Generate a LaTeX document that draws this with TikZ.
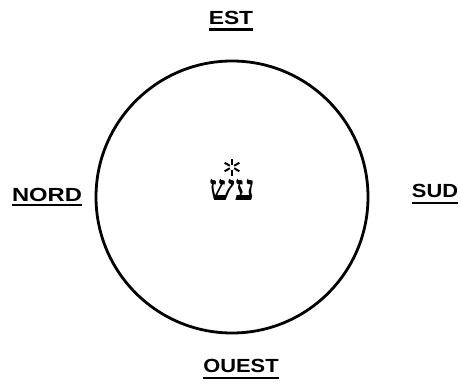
\documentclass[tikz,border=0pt]{standalone}
\usepackage{fontspec}
\usetikzlibrary{calc}
\setmainfont{Liberation Sans}
\newfontfamily\hebfont[Script=Hebrew]{Liberation Serif}
\TeXXeTstate=1
\tikzset{
  dirlabel/.style={font=\fontsize{19}{19}\selectfont\bfseries, inner sep=0pt, anchor=base},
  uline/.style={line width=2pt},
  ring/.style={line width=2.8pt, draw=black},
}
\begin{document}
\begin{tikzpicture}[x=1pt,y=-1pt]
\useasboundingbox (0,0) rectangle (460,383);
\draw[ring] (232,197) circle (136);
\node[dirlabel] (est) at (231,24) {\scalebox{1.2}[1]{EST}};
\node[dirlabel] (nord) at (47,201) {\scalebox{1.25}[1]{NORD}};
\node[dirlabel] (sud) at (435,197) {\scalebox{1.15}[1]{SUD}};
\node[dirlabel] (ouest) at (241,372) {\scalebox{1.15}[1]{OUEST}};
\draw[line width=3pt] ([yshift=-5pt]est.base west) -- ([yshift=-5pt]est.base east);
\draw[uline] ([yshift=-4pt]nord.base west) -- ([yshift=-4pt]nord.base east);
\draw[uline] ([yshift=-6pt]sud.base west) -- ([yshift=-6pt]sud.base east);
\draw[uline] ([yshift=-6pt]ouest.base west) -- ([yshift=-6pt]ouest.base east);
\coordinate (star) at (232,167);
\foreach \a in {90,30,150,210,330,270}
  \draw[line width=2pt] ($(star)+(\a:2.5)$) -- ($(star)+(\a:8.5)$);
\node[font=\hebfont\fontsize{36}{36}\selectfont\bfseries, inner sep=0pt] (heb) at (232,190) {\beginR עש\endR};
\end{tikzpicture}
\end{document}
